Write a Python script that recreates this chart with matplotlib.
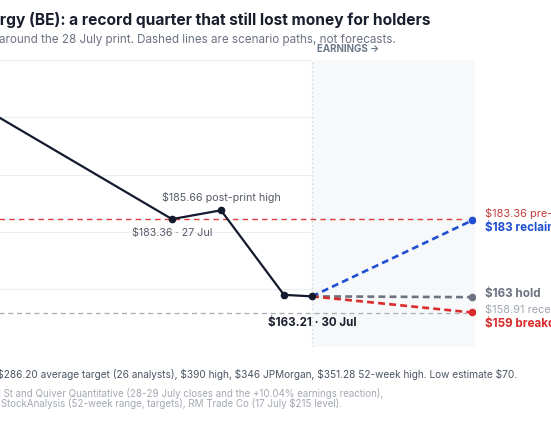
import matplotlib
matplotlib.use('Agg')
import matplotlib.pyplot as plt

plt.rcParams['font.family'] = ['Inter', 'DejaVu Sans']

# price path (x = day of July, fractional for intraday points)
days = [23.0, 27.0, 28.05, 29.4, 30.0]
prices = [212.0, 183.36, 185.66, 163.6, 163.21]

# scenario paths from the 30 Jul close
scen_end_day = 33.43
scen_names = ['$183 reclaim', '$163 hold', '$159 breakdown']
scen_values = [183.0, 163.0, 159.0]
scen_colors = ['#1f4fd1', '#6b7280', '#d92b2b']

pre_print_close = 183.36
recent_low = 158.91
earnings_day = 30.0

title = 'Bloom Energy (BE): a record quarter that still lost money for holders'
subtitle = 'Daily closes around the 28 July print. Dashed lines are scenario paths, not forecasts.'
note = ('Street view: $286.20 average target (26 analysts), $390 high, $346 JPMorgan, '
        '$351.28 52-week high. Low estimate $70.')
src1 = 'Sources: MarketBeat, Wall St and Quiver Quantitative (28-29 July closes and the +10.04% earnings reaction),'
src2 = 'Nasdaq and StockAnalysis (52-week range, targets), RM Trade Co (17 July $215 level).'

W, H = 551, 431
fig = plt.figure(figsize=(W / 100, H / 100), dpi=100)
ax = fig.add_axes([-38 / W, 1 - 348 / H, 513.3 / W, 287.5 / H])
ax.set_xlim(22.5, 33.5)
ax.set_ylim(150, 225)
for s in ax.spines.values():
    s.set_visible(False)
ax.set_xticks([])
ax.set_yticks([])
for g in [150, 165, 180, 195, 210, 225]:
    ax.axhline(g, color='#eceef1', lw=0.8, zorder=0)

ax.axvspan(earnings_day, 33.5, color='#f6f8fa', zorder=1, lw=0)
ax.axvline(earnings_day, color='#d3d8dd', lw=1, ls=(0, (1, 2)), zorder=2)

ax.plot([22.5, 33.3], [pre_print_close] * 2, color='#e03c3c', lw=1.0, ls=(0, (4, 3)), zorder=2)
ax.plot([22.5, 33.3], [recent_low] * 2, color='#a8adb5', lw=0.9, ls=(0, (4, 3)), zorder=2)

for v, c in zip(scen_values, scen_colors):
    ax.plot([days[-1], scen_end_day], [prices[-1], v], color=c, lw=1.9,
            dashes=(2.6, 1.6), zorder=3)
    ax.plot(scen_end_day, v, 'o', color=c, ms=4.5, zorder=4)

ax.plot(days, prices, color='#141a2e', lw=1.6, marker='o', ms=4.5, zorder=5)

# point labels
ax.annotate('$185.66 post-print high', (days[2], prices[2]), xytext=(0, 10),
            textcoords='offset points', ha='center', va='center', fontsize=7.7, color='#555b66')
ax.annotate('$183.36 · 27 Jul', (days[1], prices[1]), xytext=(0, -9.5),
            textcoords='offset points', ha='center', va='center', fontsize=7.7, color='#555b66')
ax.annotate('$163.21 · 30 Jul', (days[4], prices[4]), xytext=(0, -18.5),
            textcoords='offset points', ha='center', va='center', fontsize=8.3,
            color='#1a1f2e', weight='bold')

# right-hand labels
kw = dict(textcoords='offset points', ha='left', va='center', annotation_clip=False)
ax.annotate('$183.36 pre-print close', (scen_end_day, pre_print_close), xytext=(9, 5),
            fontsize=7.9, color='#c43c3c', **kw)
ax.annotate(scen_names[0], (scen_end_day, scen_values[0]), xytext=(9, -5),
            fontsize=8.4, color=scen_colors[0], weight='bold', **kw)
ax.annotate(scen_names[1], (scen_end_day, scen_values[1]), xytext=(9, 3),
            fontsize=8.4, color=scen_colors[1], weight='bold', **kw)
ax.annotate('$158.91 recent low', (scen_end_day, recent_low), xytext=(9, 3),
            fontsize=7.9, color='#a0a6b0', **kw)
ax.annotate(scen_names[2], (scen_end_day, scen_values[2]), xytext=(9, -7.5),
            fontsize=8.4, color=scen_colors[2], weight='bold', **kw)

fig.text(317 / W, 1 - 49 / H, 'EARNINGS →', fontsize=7.0, weight='bold',
         color='#6b7889', va='center', ha='left')

fig.text(431 / W, 1 - 25 / H, title, ha='right', va='baseline', fontsize=11.2,
         weight='bold', color='#1a1f2e')
fig.text(396 / W, 1 - 40 / H, subtitle, ha='right', va='center', fontsize=8.4, color='#6b7280')
fig.text(517 / W, 1 - 375 / H, note, ha='right', va='center', fontsize=7.25, color='#4b5563')
fig.text(383 / W, 1 - 394 / H, src1, ha='right', va='center', fontsize=7.0, color='#a3a8b2')
fig.text(342 / W, 1 - 404 / H, src2, ha='right', va='center', fontsize=7.0, color='#a3a8b2')

fig.savefig('out.png', dpi=100)
